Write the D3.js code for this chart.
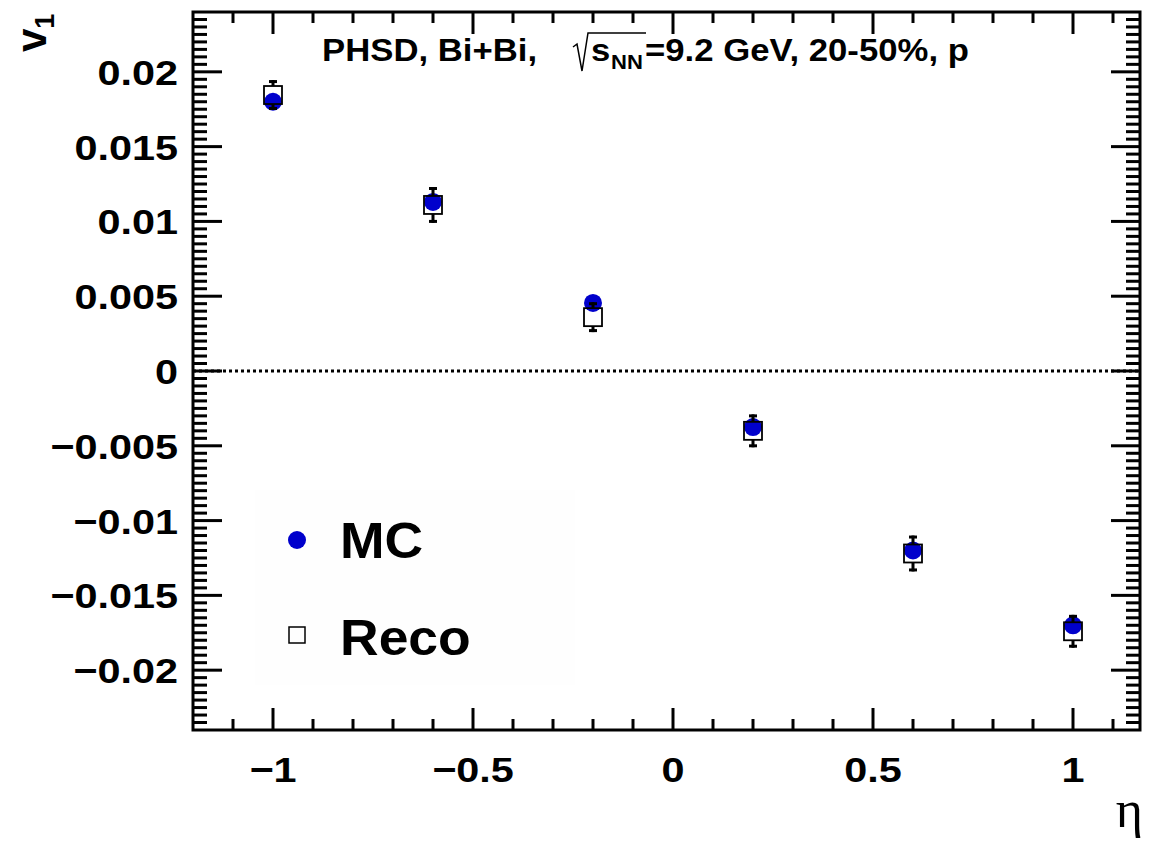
<!DOCTYPE html>
<html>
<head>
<meta charset="utf-8">
<script src="https://cdn.jsdelivr.net/npm/d3@7"></script>
<style>
  html, body { margin: 0; padding: 0; background: #fff; }
  svg { display: block; }
  text { font-family: "Liberation Sans", Arial, Helvetica, sans-serif; font-weight: bold; fill: #000; }
</style>
</head>
<body>
<svg id="chart" width="1153" height="843"></svg>
<script>
// ---- data ----
const eta = [-1, -0.6, -0.2, 0.2, 0.6, 1.0];
const mcV1 = [0.0180, 0.0113, 0.00455, -0.00375, -0.0120, -0.0170];
const recoV1 = [0.01845, 0.0111, 0.0036, -0.0040, -0.0122, -0.0174];
const recoErr = [0.0010, 0.0012, 0.0010, 0.0011, 0.0012, 0.0011];
const xTicks = [-1, -0.5, 0, 0.5, 1];
const xTickLabels = ["\u22121", "\u22120.5", "0", "0.5", "1"];
const yTicks = [0.02, 0.015, 0.01, 0.005, 0, -0.005, -0.01, -0.015, -0.02];
const yTickLabels = ["0.02", "0.015", "0.01", "0.005", "0", "\u22120.005", "\u22120.01", "\u22120.015", "\u22120.02"];
const legendLabels = ["MC", "Reco"];

// ---- layout ----
const svg = d3.select("#chart");
const L = 193, R = 1140, T = 12, B = 730;
const x = d3.scaleLinear().domain([-1.2, 1.1675]).range([L, R]);
const y = d3.scaleLinear().domain([0.024, -0.024]).range([T, B]);

function stext(g, px, py, str, size, anchor, sx) {
  return g.append("text")
    .attr("transform", `translate(${px},${py}) scale(${sx},1)`)
    .attr("text-anchor", anchor || "start")
    .style("font-size", size + "px")
    .text(str);
}

// legend background (very faint)
svg.append("rect").attr("x", 255).attr("y", 490).attr("width", 320).attr("height", 195)
  .attr("fill", "#fefefe");

// ---- ticks ----
const tickG = svg.append("g").attr("stroke", "#000");
const yMinor = d3.range(-0.024, 0.02401, 0.0005);
yMinor.forEach(v => {
  const isMajor = Math.abs(Math.round(v / 0.005) * 0.005 - v) < 1e-7;
  const len = isMajor ? 29 : 14;
  const yy = y(v);
  if (yy < T + 1 || yy > B - 1) return;
  tickG.append("line").attr("x1", L).attr("x2", L + len).attr("y1", yy).attr("y2", yy).attr("stroke-width", 3);
  tickG.append("line").attr("x1", R).attr("x2", R - len).attr("y1", yy).attr("y2", yy).attr("stroke-width", 3);
});
const xMinor = d3.range(-1.2, 1.1675, 0.1);
xMinor.forEach(v => {
  const isMajor = Math.abs(Math.round(v / 0.5) * 0.5 - v) < 1e-7;
  const len = isMajor ? 22 : 11;
  const xx = x(v);
  if (xx < L + 1 || xx > R - 1) return;
  tickG.append("line").attr("x1", xx).attr("x2", xx).attr("y1", B).attr("y2", B - len).attr("stroke-width", 3);
  tickG.append("line").attr("x1", xx).attr("x2", xx).attr("y1", T).attr("y2", T + len).attr("stroke-width", 3);
});

// frame
svg.append("rect").attr("x", L).attr("y", T).attr("width", R - L).attr("height", B - T)
  .attr("fill", "none").attr("stroke", "#000").attr("stroke-width", 3);

// tick labels
const labG = svg.append("g");
yTicks.forEach((v, i) => stext(labG, 178, y(v) + 13, yTickLabels[i], 36, "end", 1.15));
xTicks.forEach((v, i) => stext(labG, x(v), 782, xTickLabels[i], 36, "middle", 1.15));

// axis titles
svg.append("text").attr("x", 1143).attr("y", 827).attr("text-anchor", "end")
  .style("font-family", "'Liberation Serif', 'Times New Roman', serif").style("font-weight", "normal")
  .style("font-size", "52px").text("\u03b7");
const vt = svg.append("text").attr("transform", "translate(46,52) rotate(-90)").attr("text-anchor", "start")
  .style("font-size", "42px");
vt.append("tspan").text("v");
vt.append("tspan").attr("dy", 8).style("font-size", "27px").text("1");

// zero line
svg.append("line").attr("x1", L).attr("x2", R).attr("y1", y(0)).attr("y2", y(0))
  .attr("stroke", "#000").attr("stroke-width", 3).attr("stroke-dasharray", "3,3");

// title
const tg = svg.append("g");
stext(tg, 322, 61, "PHSD, Bi+Bi,", 31, "start", 1.12);
tg.append("path").attr("d", "M573,47 L577,44 L582,71 L588,33 L646,33")
  .attr("fill", "none").attr("stroke", "#000").attr("stroke-width", 1.5);
stext(tg, 591, 61, "s", 31, "start", 1.12);
stext(tg, 611, 69, "NN", 21, "start", 1.05);
stext(tg, 645, 61, "=9.2 GeV, 20-50%, p", 31, "start", 1.12);

// ---- data marks ----
const blue = "#0000cc";
svg.append("g").selectAll("circle").data(eta).join("circle")
  .attr("cx", d => x(d)).attr("cy", (d, i) => y(mcV1[i])).attr("r", 9).attr("fill", blue);

const hs = 9; // half square
const rg = svg.append("g");
eta.forEach((d, i) => {
  const cx = x(d), cy = y(recoV1[i]);
  const yTop = y(recoV1[i] + recoErr[i]), yBot = y(recoV1[i] - recoErr[i]);
  rg.append("rect").attr("x", cx - hs).attr("y", cy - hs).attr("width", 2 * hs).attr("height", 2 * hs)
    .attr("fill", "none").attr("stroke", "#000").attr("stroke-width", 1.8);
  if (yTop < cy - hs) {
    rg.append("line").attr("x1", cx).attr("x2", cx).attr("y1", yTop).attr("y2", cy - hs).attr("stroke", "#000").attr("stroke-width", 3);
  }
  if (yBot > cy + hs) {
    rg.append("line").attr("x1", cx).attr("x2", cx).attr("y1", cy + hs).attr("y2", yBot).attr("stroke", "#000").attr("stroke-width", 3);
  }
  rg.append("line").attr("x1", cx - 4).attr("x2", cx + 4).attr("y1", yTop + 1.5).attr("y2", yTop + 1.5).attr("stroke", "#000").attr("stroke-width", 3);
  rg.append("line").attr("x1", cx - 4).attr("x2", cx + 4).attr("y1", yBot - 1.5).attr("y2", yBot - 1.5).attr("stroke", "#000").attr("stroke-width", 3);
});

// ---- legend ----
const lg = svg.append("g");
lg.append("circle").attr("cx", 297).attr("cy", 540).attr("r", 9).attr("fill", blue);
lg.append("rect").attr("x", 289).attr("y", 627).attr("width", 16).attr("height", 16)
  .attr("fill", "none").attr("stroke", "#000").attr("stroke-width", 1.5);
stext(lg, 340, 558, legendLabels[0], 50, "start", 1.07);
stext(lg, 340, 655, legendLabels[1], 50, "start", 1.07);
</script>
</body>
</html>
